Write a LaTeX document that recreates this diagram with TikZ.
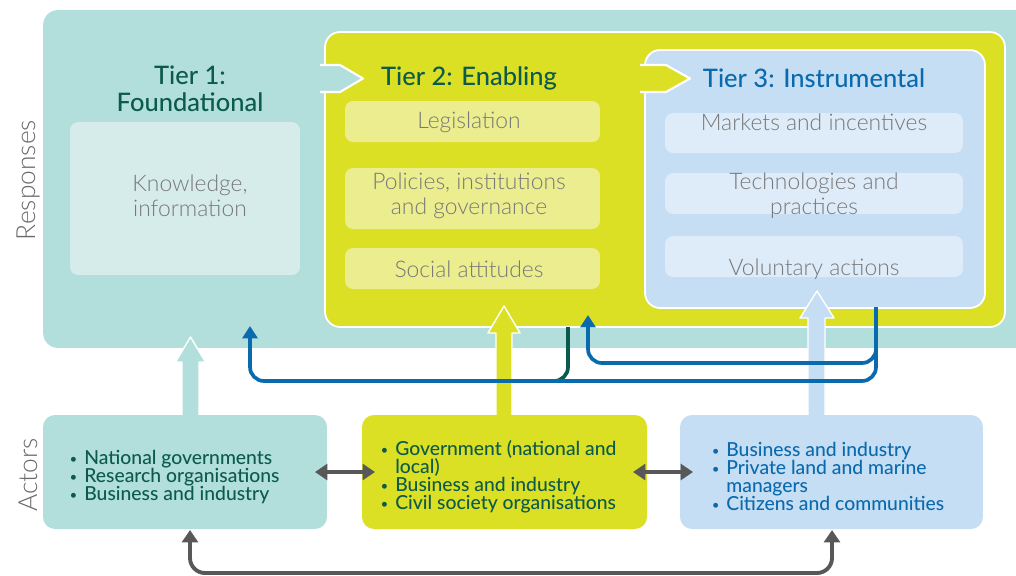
\documentclass[tikz,border=0pt]{standalone}
\usepackage{graphicx}
\usepackage{fontspec}
\setmainfont{Lato}
\IfFontExistsTF{Lato Light}{\newfontfamily\lightfont{Lato Light}}{\newfontfamily\lightfont{Lato}}
\IfFontExistsTF{Lato Medium}{\newfontfamily\medfont{Lato Medium}}{\newfontfamily\medfont{Lato}}
\usetikzlibrary{arrows.meta}
\definecolor{cteal}{RGB}{178,223,219}
\definecolor{ctealL}{RGB}{214,236,234}
\definecolor{cyel}{RGB}{220,224,36}
\definecolor{cyelL}{RGB}{235,237,142}
\definecolor{cblueP}{RGB}{197,222,243}
\definecolor{cblueL}{RGB}{222,235,248}
\definecolor{cdgreen}{RGB}{11,90,75}
\definecolor{cblue}{RGB}{10,106,174}
\definecolor{cgraytxt}{RGB}{120,120,120}
\definecolor{csidetxt}{RGB}{105,105,105}
\definecolor{cgrayarr}{RGB}{88,88,88}
\newcommand{\bul}{\makebox[0.34cm][l]{\hspace{1.5pt}\raisebox{0.5pt}{\scalebox{0.65}{\textbullet}}}}
\begin{document}
\begin{tikzpicture}[x=0.02cm,y=-0.02cm,
  panel/.style={inner sep=0pt, rounded corners=0.3cm},
  subbox/.style={inner sep=0pt, rounded corners=0.16cm},
  actorbox/.style={inner sep=0pt, rounded corners=0.24cm, minimum width=#1, minimum height=2.28cm},
  bodytxt/.style={font=\lightfont\fontsize{13}{14.2}\selectfont, text=cgraytxt, align=center, inner sep=0pt},
  titletxt/.style={font=\medfont\fontsize{14.5}{15.3}\selectfont, align=center, inner sep=0pt},
  sidetxt/.style={font=\lightfont\fontsize{15}{16}\selectfont, text=csidetxt, rotate=90, inner sep=0pt},
  actortxt/.style={font=\medfont\fontsize{11}{10.3}\selectfont, anchor=west, align=left, inner sep=0pt},
  notch/.style={draw=white, line width=1.2pt, line join=round},
  blockarr/.style={draw=white, line width=0.8pt, line join=round},
  blueline/.style={draw=cblue, line width=2.1pt, rounded corners=0.28cm},
  greenline/.style={draw=cdgreen, line width=2.1pt, rounded corners=0.28cm},
  grayline/.style={draw=cgrayarr, line width=2.2pt, rounded corners=0.3cm},
  tipb/.style={-{Triangle[width=8.5pt,length=7pt]}},
  tipg/.style={{Triangle[width=9pt,length=7pt]}-{Triangle[width=9pt,length=7pt]}}
]
\useasboundingbox (0,0) rectangle (1016,575);
\begin{scope}
\clip (0,0) rectangle (1016,575);
% background responses panel
\node[panel, fill=cteal, minimum width=19.74cm, minimum height=6.76cm] (resp) at (536.5,179) {};
\node[subbox, fill=ctealL, minimum width=4.6cm, minimum height=3.06cm] (know) at (185,198.5) {};
% tier 2 panel
\node[panel, fill=cyel, draw=white, line width=1pt, minimum width=13.6cm, minimum height=5.9cm] (t2) at (665,179.5) {};
\path[fill=cteal, notch] (320,65) -- (340,65) -- (363,78.5) -- (340,92) -- (320,92);
\node[subbox, fill=cyelL, minimum width=5.1cm, minimum height=0.82cm] (leg) at (472.5,121.5) {};
\node[subbox, fill=cyelL, minimum width=5.1cm, minimum height=1.22cm] (pol) at (472.5,198.5) {};
\node[subbox, fill=cyelL, minimum width=5.1cm, minimum height=0.82cm] (soc) at (472.5,268.5) {};
% tier 3 panel
\node[panel, fill=cblueP, draw=white, line width=1pt, minimum width=6.8cm, minimum height=5.16cm] (t3) at (815,179) {};
\path[fill=cyel, notch] (640,65) -- (666,65) -- (690,78.5) -- (666,92) -- (640,92);
\node[subbox, fill=cblueL, minimum width=5.96cm, minimum height=0.8cm] (mkt) at (814,133) {};
\node[subbox, fill=cblueL, minimum width=5.96cm, minimum height=0.82cm] (tech) at (814,193.5) {};
\node[subbox, fill=cblueL, minimum width=5.96cm, minimum height=0.82cm] (vol) at (814,256.5) {};
% texts
\node[sidetxt] (lresp) at (28,180) {Responses};
\node[sidetxt] (lact) at (28,475) {Actors};
\node[titletxt, text=cdgreen] (t1title) at (190,89) {Tier 1:\\Foundational};
\node[titletxt, text=cdgreen] (t2title) at (469,78) {Tier 2: Enabling};
\node[titletxt, text=cblue] (t3title) at (814,78) {Tier 3: Instrumental};
\node[bodytxt] (knowt) at (190,195.5) {Knowledge,\\information};
\node[bodytxt] (legt) at (469,122) {Legislation};
\node[bodytxt] (polt) at (469,195.5) {Policies, institutions\\and governance};
\node[bodytxt] (soct) at (469,269) {Social attitudes};
\node[bodytxt] (mktt) at (814,122) {Markets and incentives};
\node[bodytxt] (techt) at (814,195.5) {Technologies and\\practices};
\node[bodytxt] (volt) at (814,269) {Voluntary actions};
% block arrows up
\path[fill=cteal, blockarr] (182,418) -- (182,362) -- (175.5,362) -- (190.5,337) -- (205.5,362) -- (199,362) -- (199,418);
\path[fill=cyel, blockarr] (496,418) -- (496,333) -- (488,333) -- (504,306) -- (520,333) -- (512,333) -- (512,418);
\path[fill=cblueP, blockarr] (808,418) -- (808,318) -- (800,318) -- (817,291) -- (834,318) -- (825,318) -- (825,418);
% feedback lines
\coordinate (g0) at (568,327);
\coordinate (g1) at (540,381);
\coordinate (b0) at (876,307);
\coordinate (b1) at (588,315);
\coordinate (b2) at (250,326);
\draw[greenline] (g0) -- (g0 |- g1) -- (g1);
\draw[blueline, tipb] (b0) -- (876,363) -- (588,363) -- (b1);
\draw[blueline, tipb] (b0) -- (876,381) -- (250,381) -- (b2);
% actor boxes
\node[actorbox=5.68cm, fill=cteal] (a1) at (185,472) {};
\node[actorbox=5.7cm, fill=cyel] (a2) at (504.5,472) {};
\node[actorbox=6.06cm, fill=cblueP] (a3) at (831.5,472) {};
\node[actortxt, text=cdgreen] (a1t) at (67,477) {\bul National governments\\\bul Research organisations\\\bul Business and industry};
\node[actortxt, text=cdgreen] (a2t) at (378,476.5) {\bul Government (national and\\\hspace*{0.34cm}local)\\\bul Business and industry\\\bul Civil society organisations};
\node[actortxt, text=cblue] (a3t) at (709,476.5) {\bul Business and industry\\\bul Private land and marine\\\hspace*{0.34cm}managers\\\bul Citizens and communities};
% gray arrows
\coordinate (d1l) at (315,472);
\coordinate (d1r) at (375,472);
\coordinate (d2l) at (633,472);
\coordinate (d2r) at (693,472);
\draw[grayline, tipg] (d1l) -- (d1r);
\draw[grayline, tipg] (d2l) -- (d2r);
\coordinate (e1) at (190,530);
\coordinate (e2) at (832,530);
\draw[grayline, tipg] (e1) -- (190,573) -- (832,573) -- (e2);
\end{scope}
\end{tikzpicture}
\end{document}
